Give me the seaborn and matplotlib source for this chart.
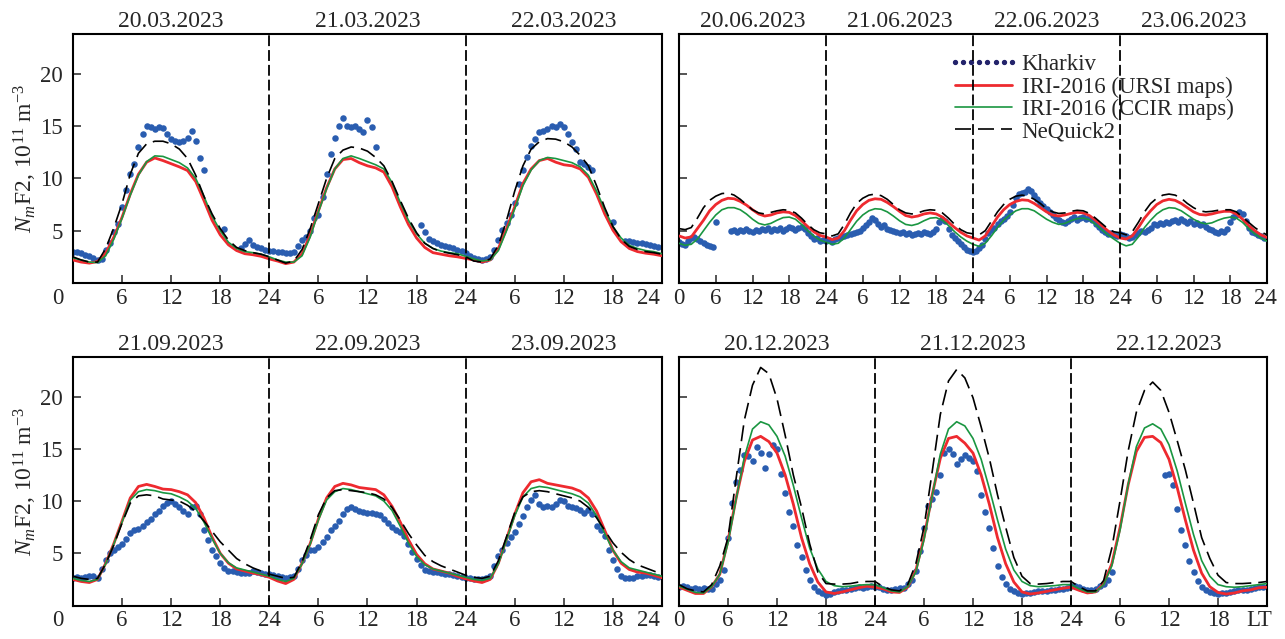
import numpy as np
import pandas as pd
import matplotlib
matplotlib.use("Agg")
import matplotlib.pyplot as plt
import seaborn as sns
from matplotlib.lines import Line2D

nan = np.nan

# ---------------- March 2023 (hourly model values, half-hourly ionosonde) ----------------
mar_dates = ["20.03.2023", "21.03.2023", "22.03.2023"]
mar_ursi = [2.2, 2.0, 1.9, 2.05, 2.85, 4.4, 6.3, 8.5, 10.4, 11.55, 11.95, 11.7, 11.4, 11.1, 10.75, 9.7, 7.9, 6.0, 4.6, 3.65, 3.1, 2.8, 2.7, 2.55,
            2.3, 2.1, 1.85, 2.0, 2.8, 4.6, 6.9, 9.1, 10.9, 11.8, 11.9, 11.5, 11.2, 11.0, 10.6, 9.2, 7.3, 5.6, 4.3, 3.4, 2.9, 2.75, 2.6, 2.5,
            2.35, 2.2, 2.0, 2.2, 3.3, 5.2, 7.3, 9.5, 10.9, 11.7, 11.9, 11.55, 11.3, 11.2, 10.9, 10.1, 8.5, 6.6, 5.05, 3.95, 3.3, 3.0, 2.85, 2.75, 2.6]
mar_ccir = [2.4, 2.2, 2.0, 1.95, 2.6, 4.2, 6.2, 8.4, 10.3, 11.6, 12.15, 12.1, 11.8, 11.5, 11.0, 10.0, 8.3, 6.4, 5.0, 3.9, 3.3, 3.0, 2.9, 2.75,
            2.5, 2.2, 2.0, 2.0, 2.6, 4.4, 6.8, 9.0, 10.9, 11.9, 12.15, 11.9, 11.6, 11.3, 10.9, 9.6, 7.7, 6.0, 4.7, 3.8, 3.3, 3.05, 2.9, 2.8,
            2.55, 2.3, 2.1, 2.2, 3.1, 5.0, 7.1, 9.3, 10.8, 11.7, 12.0, 11.9, 11.7, 11.5, 11.1, 10.3, 8.8, 7.0, 5.4, 4.3, 3.6, 3.3, 3.1, 3.0, 2.8]
mar_neq = [2.5, 2.2, 2.0, 2.0, 3.3, 5.3, 7.6, 10.4, 12.4, 13.3, 13.55, 13.55, 13.3, 12.8, 11.9, 10.3, 8.3, 6.6, 5.2, 4.1, 3.4, 3.1, 2.9, 2.75,
           2.5, 2.2, 1.9, 2.1, 3.2, 5.2, 7.6, 10.0, 11.9, 12.7, 13.0, 12.9, 12.6, 12.0, 11.2, 9.7, 7.9, 6.2, 4.8, 3.8, 3.3, 3.0, 2.85, 2.7,
           2.5, 2.1, 2.0, 2.3, 3.6, 6.0, 8.8, 11.2, 12.8, 13.5, 13.8, 13.75, 13.5, 13.0, 12.2, 11.2, 9.3, 7.2, 5.4, 4.2, 3.5, 3.2, 3.0, 2.9, 2.75]
mar_obs = [3.0, 3.0, 2.85, 2.7, 2.55, 2.4, 2.2, 2.3, 3.2, 3.8, 4.9, 5.6, 7.3, 8.9, 10.4, 11.4, 13.0, 14.2, 15.0, 14.9, 14.7, 14.9, 14.8, 14.2,
           13.8, 13.6, 13.45, 13.6, 13.9, 14.55, 13.6, 11.9, 10.8, nan, nan, nan, nan, 5.2, nan, nan, nan, 3.3, 3.7, 4.1, 3.6, 3.4, 3.3, 3.2,
           3.1, 3.1, 3.0, 3.0, 2.9, 2.9, 3.0, 3.5, 4.1, 4.4, 5.0, 6.2, 6.5, 8.2, 10.4, 12.3, 13.9, 15.0, 15.75, 15.0, 14.9, 15.0, 14.7, 14.4,
           15.6, 14.9, 13.0, nan, nan, nan, nan, nan, nan, nan, nan, nan, nan, 5.5, 4.9, 4.2, 4.0, 3.8, 3.6, 3.5, 3.4, 3.3, 3.2, 3.1,
           2.85, 2.6, 2.4, 2.3, 2.2, 2.3, 2.5, 3.2, 4.1, 5.1, 5.7, 6.5, 7.6, 9.5, 10.8, 12.0, 13.1, 13.8, 14.4, 14.55, 14.7, 15.0, 14.9, 15.2,
           14.9, 14.2, 13.45, 12.8, 11.55, 11.4, 11.1, 10.8, nan, nan, nan, nan, 5.85, nan, nan, 4.0, 4.0, 3.9, 3.85, 3.8, 3.7, 3.6, 3.5, 3.4]

# ---------------- June 2023 ----------------
jun_dates = ["20.06.2023", "21.06.2023", "22.06.2023", "23.06.2023"]
jun_ursi = [4.5, 4.3, 4.4, 5.2, 6.0, 6.9, 7.5, 7.9, 8.1, 8.05, 7.8, 7.45, 7.0, 6.6, 6.4, 6.5, 6.7, 6.8, 6.75, 6.45, 5.95, 5.4, 4.9, 4.55,
            4.4, 4.15, 4.3, 5.0, 6.0, 6.9, 7.5, 7.9, 8.05, 8.0, 7.7, 7.3, 6.85, 6.45, 6.3, 6.4, 6.6, 6.7, 6.6, 6.3, 5.8, 5.3, 4.85, 4.5,
            4.3, 4.1, 4.5, 5.4, 6.3, 7.0, 7.5, 7.8, 7.95, 7.9, 7.6, 7.2, 6.8, 6.5, 6.4, 6.5, 6.65, 6.75, 6.7, 6.45, 6.0, 5.5, 5.0, 4.6,
            4.3, 4.2, 4.5, 5.3, 6.2, 6.9, 7.5, 7.85, 8.0, 7.9, 7.6, 7.2, 6.8, 6.55, 6.5, 6.6, 6.75, 6.85, 6.85, 6.6, 6.1, 5.5, 5.0, 4.6, 4.35]
jun_ccir = [3.8, 3.6, 3.7, 4.2, 5.0, 5.8, 6.5, 7.0, 7.2, 7.2, 7.0, 6.6, 6.1, 5.7, 5.55, 5.7, 6.0, 6.25, 6.3, 6.1, 5.6, 5.0, 4.5, 4.1,
            3.9, 3.7, 3.8, 4.3, 5.1, 5.9, 6.5, 6.9, 7.1, 7.05, 6.8, 6.4, 5.95, 5.6, 5.5, 5.65, 5.95, 6.2, 6.25, 6.0, 5.5, 4.9, 4.4, 4.0,
            3.7, 3.5, 3.8, 4.5, 5.3, 6.0, 6.5, 6.9, 7.1, 7.1, 6.9, 6.5, 6.1, 5.8, 5.6, 5.7, 5.95, 6.15, 6.2, 6.05, 5.6, 5.1, 4.6, 4.2,
            3.8, 3.55, 3.7, 4.4, 5.3, 6.0, 6.6, 7.0, 7.2, 7.15, 6.9, 6.5, 6.1, 5.8, 5.65, 5.75, 6.0, 6.2, 6.3, 6.2, 5.8, 5.2, 4.7, 4.3, 4.0]
jun_neq = [5.2, 5.1, 5.3, 6.2, 7.2, 7.9, 8.3, 8.55, 8.6, 8.4, 8.0, 7.5, 7.0, 6.7, 6.6, 6.75, 6.9, 7.0, 6.95, 6.7, 6.2, 5.6, 5.1, 4.8,
           4.7, 4.5, 4.7, 5.6, 6.7, 7.6, 8.1, 8.4, 8.5, 8.35, 8.0, 7.5, 7.0, 6.7, 6.6, 6.7, 6.9, 7.0, 6.95, 6.7, 6.2, 5.6, 5.1, 4.8,
           4.7, 4.6, 5.0, 5.9, 6.8, 7.5, 8.0, 8.3, 8.4, 8.3, 8.0, 7.6, 7.1, 6.8, 6.65, 6.7, 6.85, 6.95, 6.9, 6.65, 6.2, 5.7, 5.2, 4.9,
           4.8, 4.6, 4.9, 5.8, 6.8, 7.6, 8.1, 8.4, 8.5, 8.4, 8.1, 7.6, 7.2, 6.9, 6.8, 6.85, 6.95, 7.0, 7.0, 6.8, 6.3, 5.8, 5.3, 4.9, 4.6]
jun_obs = [3.9, 3.7, 3.6, 4.0, 4.3, 4.4, 4.2, 4.0, 3.8, 3.6, 3.5, 3.4, 5.8, nan, nan, nan, nan, 5.0, 5.1, 4.9, 5.1, 5.0, 5.2, 5.0,
           4.9, 5.1, 5.0, 5.2, 5.1, 5.3, 5.0, 5.2, 5.1, 5.3, 5.0, 5.2, 5.4, 5.3, 5.1, 5.3, 5.4, 5.2, 4.8, 4.5, 4.2, 4.3, 4.0, 4.1,
           4.0, 4.1, 3.9, 4.2, 4.3, 4.4, 4.5, 4.6, 4.7, 4.8, 4.9, 5.0, 5.3, 5.5, 5.8, 6.2, 6.0, 5.6, 5.4, 5.5, 5.2, 5.1, 5.0, 4.9,
           4.8, 4.9, 4.7, 4.8, 4.6, 4.7, 4.8, 4.7, 4.9, 4.8, 4.7, 4.9, 5.2, 5.8, 6.1, 5.9, 5.2, 4.6, 4.3, 4.0, 3.7, 3.4, 3.2, 3.1,
           3.0, 3.1, 3.3, 3.6, 4.2, 4.8, 5.1, 5.3, 5.6, 5.9, 6.1, 6.4, 6.8, 7.5, 8.1, 8.5, 8.6, 8.7, 9.0, 8.8, 8.4, 8.0, 7.6, 7.4,
           7.1, 6.8, 6.5, 6.2, 6.0, 5.8, 5.7, 5.9, 6.1, 6.3, 6.0, 6.2, 6.3, 6.1, 6.2, 6.0, 5.6, 5.4, 5.1, 4.9, 4.7, 4.8, 4.6, 4.5,
           4.7, 4.6, 4.5, 4.3, 4.4, 4.6, 4.8, 5.0, 4.9, 5.1, 5.3, 5.6, 5.5, 5.7, 5.6, 5.8, 5.7, 5.9, 6.0, 5.8, 6.1, 5.9, 5.7, 5.9,
           5.6, 5.7, 5.5, 5.6, 5.4, 5.2, 5.1, 4.9, 4.8, 5.0, 4.9, 5.2, 5.8, 6.3, 6.5, 6.8, 6.6, 5.9, 5.3, 4.9, 4.8, 4.6, 4.5, 4.3]

# ---------------- September 2023 ----------------
sep_dates = ["21.09.2023", "22.09.2023", "23.09.2023"]
sep_ursi = [2.5, 2.3, 2.2, 2.5, 4.05, 5.95, 8.1, 10.3, 11.4, 11.6, 11.4, 11.15, 11.1, 10.9, 10.6, 9.85, 8.4, 6.55, 5.0, 4.05, 3.5, 3.3, 3.1, 2.95,
            2.7, 2.35, 2.1, 2.5, 4.05, 5.95, 8.3, 10.3, 11.4, 11.7, 11.55, 11.3, 11.2, 11.1, 10.6, 9.5, 8.0, 6.3, 4.9, 4.0, 3.5, 3.3, 3.1, 2.8,
            2.55, 2.35, 2.2, 2.5, 4.05, 6.4, 8.75, 10.8, 11.85, 12.05, 11.7, 11.55, 11.4, 11.25, 10.95, 10.3, 9.05, 7.2, 5.3, 4.05, 3.45, 3.2, 3.1, 2.9, 2.65]
sep_ccir = [2.6, 2.4, 2.3, 2.5, 4.0, 5.9, 8.0, 10.1, 10.9, 11.1, 11.0, 10.8, 10.7, 10.4, 10.0, 9.3, 8.0, 6.4, 5.0, 4.1, 3.6, 3.4, 3.2, 3.0,
            2.8, 2.5, 2.3, 2.6, 4.0, 5.9, 8.2, 10.1, 10.9, 11.2, 11.1, 10.9, 10.7, 10.5, 10.0, 9.1, 7.6, 6.0, 4.7, 3.9, 3.5, 3.3, 3.1, 2.9,
            2.7, 2.5, 2.4, 2.6, 4.0, 6.3, 8.6, 10.4, 11.2, 11.4, 11.3, 11.1, 10.9, 10.7, 10.4, 9.8, 8.6, 6.9, 5.3, 4.2, 3.6, 3.4, 3.2, 3.0, 2.8]
sep_neq = [2.8, 2.6, 2.5, 2.6, 4.0, 5.8, 7.9, 9.8, 10.5, 10.6, 10.5, 10.2, 10.1, 10.0, 9.6, 9.0, 8.1, 7.1, 6.1, 5.3, 4.5, 4.0, 3.6, 3.3,
           3.0, 2.8, 2.6, 2.7, 4.2, 6.3, 8.7, 10.3, 11.0, 11.1, 11.0, 10.9, 10.8, 10.6, 10.2, 9.4, 8.2, 6.9, 5.8, 4.8, 4.2, 3.8, 3.5, 3.2,
           2.9, 2.7, 2.6, 2.8, 4.3, 6.6, 8.9, 10.4, 10.9, 11.0, 10.9, 10.7, 10.5, 10.3, 10.0, 9.4, 8.4, 7.2, 6.0, 5.1, 4.4, 3.9, 3.6, 3.3, 3.0]
sep_obs = [2.65, 2.7, 2.65, 2.7, 2.8, 2.8, 2.65, 3.45, 4.4, 5.0, 5.3, 5.6, 5.9, 6.4, 6.9, 7.2, 7.35, 7.65, 7.95, 8.3, 8.75, 9.05, 9.5, 9.85,
           10.0, 9.7, 9.4, 9.05, 8.75, 9.4, 9.5, 8.75, 7.2, 6.25, 5.3, 4.7, 4.05, 3.6, 3.3, 3.3, 3.2, 3.1, 3.1, 3.1, 3.3, 3.2, 3.1, 3.0,
           3.0, 2.9, 2.8, 2.75, 2.65, 2.7, 2.8, 3.45, 4.4, 4.85, 5.3, 5.3, 5.6, 6.1, 6.55, 7.2, 7.65, 8.1, 8.75, 9.2, 9.4, 9.2, 9.05, 9.0,
           8.9, 8.9, 8.8, 8.7, 8.3, 7.9, 7.5, 7.2, 7.0, 6.7, 5.9, 5.1, 4.5, 3.9, 3.4, 3.3, 3.2, 3.2, 3.1, 3.0, 3.0, 2.9, 2.8, 2.7,
           2.6, 2.6, 2.55, 2.55, 2.5, 2.6, 2.8, 3.75, 4.7, 5.3, 5.95, 6.55, 7.0, 7.8, 8.6, 9.4, 10.15, 10.6, 9.7, 9.4, 9.5, 9.4, 9.7, 10.15,
           10.0, 9.5, 9.4, 9.3, 9.1, 8.9, 9.1, 8.75, 7.65, 7.2, 6.7, 5.3, 4.4, 3.45, 2.8, 2.65, 2.65, 2.65, 2.8, 2.8, 2.95, 2.9, 2.8, 2.75]

# ---------------- December 2023 ----------------
dec_dates = ["20.12.2023", "21.12.2023", "22.12.2023"]
dec_ursi = [1.77, 1.45, 1.15, 1.15, 1.8, 3.0, 6.2, 10.3, 13.8, 15.85, 16.2, 15.7, 14.6, 12.5, 9.7, 6.5, 4.0, 2.25, 1.3, 1.15, 1.3, 1.5, 1.7, 1.85,
            1.75, 1.6, 1.3, 1.25, 1.75, 3.35, 6.5, 10.6, 14.1, 16.0, 16.2, 15.55, 14.6, 12.5, 9.7, 6.5, 4.0, 2.25, 1.3, 1.1, 1.2, 1.35, 1.5, 1.65,
            1.75, 1.45, 1.2, 1.3, 2.1, 4.0, 7.45, 11.55, 14.75, 16.1, 16.2, 15.6, 14.0, 11.3, 8.2, 5.3, 3.1, 1.8, 1.25, 1.1, 1.2, 1.4, 1.5, 1.7, 1.75]
dec_ccir = [1.85, 1.55, 1.25, 1.2, 1.8, 3.0, 6.0, 10.2, 14.2, 16.9, 17.6, 17.3, 16.2, 14.3, 11.5, 8.4, 5.5, 3.5, 2.3, 1.9, 1.8, 1.85, 1.95, 2.0,
            2.0, 1.7, 1.4, 1.3, 1.8, 3.2, 6.3, 10.5, 14.5, 16.9, 17.6, 17.2, 16.0, 14.0, 11.2, 8.2, 5.4, 3.4, 2.3, 1.9, 1.8, 1.85, 1.9, 2.0,
            2.0, 1.6, 1.3, 1.3, 2.0, 3.8, 7.2, 11.6, 15.2, 17.0, 17.4, 16.9, 15.4, 12.9, 9.8, 6.8, 4.3, 2.8, 2.0, 1.8, 1.75, 1.8, 1.9, 2.0, 2.1]
dec_neq = [2.0, 1.6, 1.4, 1.3, 2.0, 3.8, 6.5, 12.2, 17.75, 21.1, 22.8, 22.2, 19.8, 16.3, 12.5, 9.4, 5.9, 3.2, 2.1, 2.05, 2.05, 2.1, 2.25, 2.3,
           2.3, 1.8, 1.5, 1.4, 2.0, 4.0, 7.5, 12.8, 18.3, 21.5, 22.6, 21.8, 19.9, 17.1, 14.1, 10.6, 7.5, 4.6, 2.8, 2.1, 2.05, 2.1, 2.2, 2.3,
           2.3, 1.8, 1.4, 1.4, 2.4, 5.5, 10.0, 14.8, 18.5, 20.6, 21.4, 20.6, 18.5, 15.8, 13.0, 9.8, 6.5, 4.5, 2.9, 2.2, 2.1, 2.1, 2.15, 2.2, 2.3]
dec_obs = [1.8, 1.9, 1.8, 1.6, 1.7, 1.6, 1.7, 1.6, 1.6, 2.1, 2.4, 3.4, 6.5, 9.8, 11.8, 13.0, 14.4, 14.3, 13.8, 15.2, 14.6, 13.2, 14.5, 15.4,
           15.0, 12.6, 10.8, 9.0, 7.6, 5.8, 4.6, 3.4, 2.4, 1.8, 1.4, 1.2, 1.05, 1.1, 1.3, 1.4, 1.45, 1.5, 1.6, 1.7, 1.8, 1.7, 1.8, 1.85,
           1.8, 1.8, 1.6, 1.5, 1.5, 1.6, 1.7, 1.7, 2.1, 2.4, 3.35, 5.25, 7.4, 9.5, 10.2, 10.9, 12.5, 14.6, 15.0, 14.5, 13.6, 14.0, 14.4, 14.1,
           13.8, 12.9, 10.6, 9.0, 7.4, 5.5, 3.8, 2.7, 2.1, 1.6, 1.4, 1.2, 1.1, 1.15, 1.2, 1.3, 1.35, 1.4, 1.4, 1.5, 1.5, 1.55, 1.6, 1.65,
           1.9, 1.85, 1.75, 1.6, 1.5, 1.5, 1.6, 1.9, 2.1, 2.4, 3.2, nan, nan, nan, nan, nan, nan, nan, nan, nan, nan, nan, nan,
           12.5, 12.6, 11.5, 9.2, 7.2, 5.8, 4.3, 3.2, 2.3, 1.8, 1.5, 1.3, 1.15, 1.1, 1.15, 1.2, 1.3, 1.4, 1.45, 1.5, 1.5, 1.6, 1.65, 1.75, 1.8]

# ---------------- styling ----------------
sns.set_theme(style="white")
plt.rcParams["font.family"] = ["Liberation Serif", "DejaVu Serif"]
plt.rcParams["mathtext.fontset"] = "custom"
plt.rcParams["mathtext.rm"] = "Liberation Serif"
plt.rcParams["mathtext.it"] = "Liberation Serif:italic"
plt.rcParams["axes.edgecolor"] = "black"
plt.rcParams["axes.linewidth"] = 1.5

KH = "#2a5db0"
KH_LEG = "#23236b"
RED = "#ee2a2f"
GREEN = "#1a9641"
FS = 16.5
XPAD = 3.5

fig = plt.figure(figsize=(12.85, 6.39), dpi=100)
W, H = 1285.0, 639.0


def frac(x0, y0, x1, y1):
    return [x0 / W, 1 - y1 / H, (x1 - x0) / W, (y1 - y0) / H]


ax_mar = fig.add_axes(frac(73, 34, 662, 283))
ax_jun = fig.add_axes(frac(679, 34, 1267, 283))
ax_sep = fig.add_axes(frac(73, 357, 662, 605.5))
ax_dec = fig.add_axes(frac(679, 357, 1267, 605.5))


def draw_panel(ax, dates, ursi, ccir, neq, obs, left, first_dx, last_dx, last_text):
    ndays = len(dates)
    span = 24 * ndays

    obs_df = pd.DataFrame({"LT": np.arange(len(obs)) * 0.5, "NmF2": obs}).dropna()
    sns.scatterplot(data=obs_df, x="LT", y="NmF2", ax=ax, color=KH, s=22,
                    linewidth=0, zorder=2, legend=False)

    mod_df = pd.DataFrame({"LT": np.arange(len(ursi), dtype=float),
                           "URSI": ursi, "CCIR": ccir, "NeQuick2": neq})
    sns.lineplot(data=mod_df, x="LT", y="URSI", ax=ax, color=RED, linewidth=2.0, zorder=3)
    sns.lineplot(data=mod_df, x="LT", y="CCIR", ax=ax, color=GREEN, linewidth=1.2, zorder=4)
    sns.lineplot(data=mod_df, x="LT", y="NeQuick2", ax=ax, color="black", linewidth=1.2, zorder=5)
    ax.lines[-1].set_dashes((9.6, 4.2))

    for d in range(1, ndays):
        ax.axvline(24 * d, color="black", linewidth=1.3, dashes=(6, 2.2), zorder=6)

    ax.set_xlim(0, span)
    ax.set_ylim(0, 23.8)
    ax.set_xlabel("")
    ax.set_ylabel("")

    xt = np.arange(0, span + 1, 6)
    labels = []
    for v in xt:
        if v == 0:
            labels.append("0")
        elif v % 24 == 0:
            labels.append("24")
        else:
            labels.append(str(int(v % 24)))
    if last_text is not None:
        labels[-1] = last_text
    extra = []
    if first_dx:
        extra.append((0, labels[0], first_dx))
        labels[0] = ""
    if last_dx:
        extra.append((span, labels[-1], last_dx))
        labels[-1] = ""
    ax.set_xticks(xt)
    ax.set_xticklabels(labels)
    for xv, txt, dx in extra:
        ax.annotate(txt, xy=(xv, 0), xycoords=("data", "axes fraction"),
                    xytext=(dx * 0.72, -XPAD), textcoords="offset points",
                    ha="center", va="top", fontsize=FS)

    ax.set_yticks([5, 10, 15, 20])
    if left:
        ax.set_yticklabels(["5", "10", "15", "20"])
        ax.set_ylabel(r"$N_m$F2, 10$^{11}$ m$^{-3}$", fontsize=17, labelpad=0.5)
    else:
        ax.set_yticklabels([])

    ax.tick_params(axis="x", direction="in", length=5.5, width=1.1, pad=XPAD,
                   labelsize=FS, bottom=True, top=False)
    ax.tick_params(axis="y", direction="in", length=5.5, width=1.1, pad=7.5,
                   labelsize=FS, left=True, right=False)
    for sp in ax.spines.values():
        sp.set_visible(True)
        sp.set_color("black")
        sp.set_linewidth(1.5)

    for d, date in enumerate(dates):
        ax.annotate(date, xy=(24 * d + 12, 1), xycoords=("data", "axes fraction"),
                    xytext=(0, 5), textcoords="offset points",
                    ha="center", va="baseline", fontsize=17)


draw_panel(ax_mar, mar_dates, mar_ursi, mar_ccir, mar_neq, mar_obs, True, -15, -14, None)
draw_panel(ax_jun, jun_dates, jun_ursi, jun_ccir, jun_neq, jun_obs, False, 0, -2, None)
draw_panel(ax_sep, sep_dates, sep_ursi, sep_ccir, sep_neq, sep_obs, True, -15, -14, None)
draw_panel(ax_dec, dec_dates, dec_ursi, dec_ccir, dec_neq, dec_obs, False, 0, -8, "LT")

handles = [
    Line2D([], [], linestyle="none", marker="o", markersize=2.8, color=KH_LEG),
    Line2D([], [], color=RED, linewidth=2.0),
    Line2D([], [], color=GREEN, linewidth=1.2),
    Line2D([], [], color="black", linewidth=1.2, dashes=(9.6, 4.2)),
]
names = ["Kharkiv", "IRI-2016 (URSI maps)", "IRI-2016 (CCIR maps)", "NeQuick2"]
ax_jun.legend(handles, names, loc="upper left", bbox_to_anchor=(0.457, 0.918),
              frameon=False, fontsize=FS, handlelength=3.1, handletextpad=0.12,
              labelspacing=0.05, borderpad=0, borderaxespad=0, numpoints=8)

fig.savefig("out.png", dpi=100)
